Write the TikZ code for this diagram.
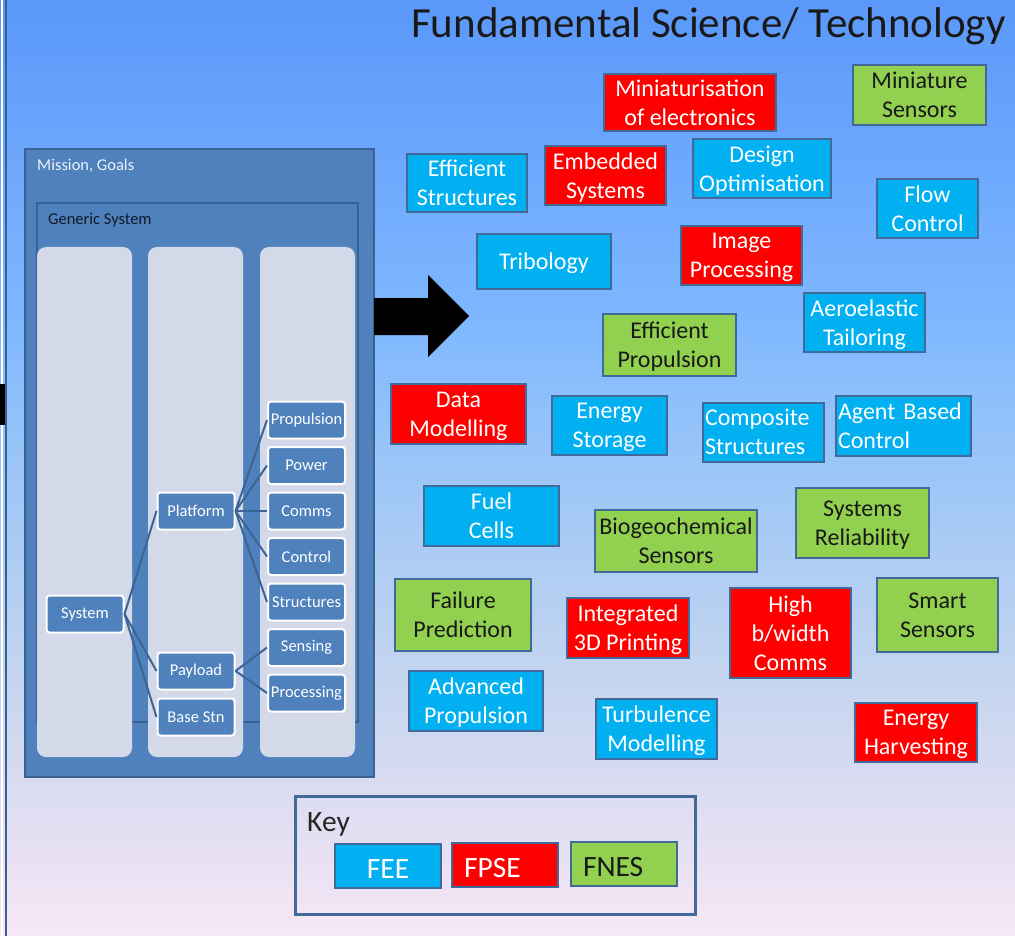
\documentclass[tikz,border=0pt]{standalone}
\usepackage{fontspec}
\setmainfont{Carlito}
\usetikzlibrary{positioning}

\definecolor{feeblue}{HTML}{00B0F0}
\definecolor{fpsered}{HTML}{FF0000}
\definecolor{fnesgreen}{HTML}{92D050}
\definecolor{boxedge}{HTML}{41699A}
\definecolor{sysblue}{HTML}{4F81BD}
\definecolor{sysdark}{HTML}{3B6192}
\definecolor{sysline}{HTML}{3C6496}
\definecolor{column}{HTML}{D3D9E8}
\definecolor{bgtop}{HTML}{5A98FA}
\definecolor{bgsky}{HTML}{80B8FF}
\definecolor{bgmid}{HTML}{92C2FA}
\definecolor{bglow}{HTML}{BCD2F0}
\definecolor{bgmist}{HTML}{D8DBF1}
\definecolor{bgbot}{HTML}{F7E7F5}

% the central 50bp of a shading cover the path
\pgfdeclareverticalshading{slide}{100bp}{color(0bp)=(bgbot); color(25bp)=(bgbot);
  color(33.5bp)=(bgmist); color(41bp)=(bglow); color(52.5bp)=(bgmid);
  color(57.5bp)=(bgsky); color(75bp)=(bgtop); color(100bp)=(bgtop)}

\tikzset{
  topic/.style={draw=boxedge, line width=2.2pt, align=center, inner sep=1pt,
    text depth=-3pt, font=\fontsize{24}{29}\selectfont},
  fee/.style={topic, fill=feeblue, text=white},
  fpse/.style={topic, fill=fpsered, text=white},
  fnes/.style={topic, fill=fnesgreen, text=black!90},
  wh/.style 2 args={minimum width=#1pt, minimum height=#2pt},
  leftlines/.style={text width=#1pt, align=left, text height=20pt, text depth=34pt},
  part/.style={draw=white, line width=2pt, fill=sysblue, rounded corners=3pt,
    minimum width=77pt, minimum height=37pt, inner sep=1pt, text=white,
    font=\fontsize{16.5}{19}\selectfont},
  branch/.style={draw=sysline, line width=2pt},
  keyitem/.style={wh={106}{44}, text width=82pt, text height=24pt, text depth=0pt,
    font=\fontsize{29.5}{35}\selectfont}
}

\begin{document}
\begin{tikzpicture}[x=1pt,y=-1pt]
  \useasboundingbox (0,0) rectangle (1015,936);
  \shade[shading=slide] (0,0) rectangle (1015,936);
  % left edge of the slide
  \draw[white, line width=1.5pt] (2,0) -- (2,936);
  \draw[sysdark, line width=1.5pt] (6,0) -- (6,936);
  \fill[black] (0,384) rectangle (5,425);

  \node[anchor=base east, inner sep=0, font=\fontsize{43}{50}\selectfont, text=black!90]
    (title) at (1006,38) {Fundamental Science/ Technology};

  % generic system
  \draw[fill=sysblue, draw=sysdark, line width=2pt] (25,149) rectangle (374,777);
  \node[anchor=base west, inner sep=0, text=white!90!sysblue,
    font=\fontsize{16.5}{19}\selectfont] (mission) at (37,171) {Mission, Goals};
  \draw[fill=sysblue, draw=sysdark, line width=2pt] (37,203) rectangle (358,722);
  \node[anchor=base west, inner sep=0, text=black!80!sysblue,
    font=\fontsize{16.5}{19}\selectfont] (generic) at (48,225) {Generic System};
  \foreach \x in {37,148,260}
    \fill[column, rounded corners=9pt] (\x,247) rectangle ++(95,510);

  \node[part] (system)   at (85,614)  {System};
  \node[part] (platform) at (196,511) {Platform};
  \node[part] (payload)  at (196,671) {Payload};
  \node[part] (basestn)  at (196,717) {Base Stn};
  \node[part] (propulsion) at (306.5,420) {Propulsion};
  \node[part] (power)      [below=6.5pt of propulsion] {Power};
  \node[part] (comms)      [below=6.5pt of power]      {Comms};
  \node[part] (control)    [below=6.5pt of comms]      {Control};
  \node[part] (structures) [below=6.5pt of control]    {Structures};
  \node[part] (sensing)    [below=6.5pt of structures] {Sensing};
  \node[part] (processing) [below=6.5pt of sensing]    {Processing};

  \foreach \c in {platform,payload,basestn}
    \draw[branch] (system.east) -- (\c.west);
  \foreach \c in {propulsion,power,comms,control,structures}
    \draw[branch] (platform.east) -- (\c.west);
  \foreach \c in {sensing,processing}
    \draw[branch] (payload.east) -- (\c.west);

  % big arrow
  \fill[black] (374,298) -- (428,298) -- (428,275) -- (469,316) -- (428,357)
    -- (428,335) -- (374,335) -- cycle;

  % science and technology areas
  \node[fpse, wh={172}{57}] (miniaturisation) at (690,102.5) {Miniaturisation\\of electronics};
  \node[fee, wh={120}{58}]  (effstructures) at (467,183)   {Efficient\\Structures};
  \node[fpse, wh={121}{59}] (embedded)      at (605.5,175.5) {Embedded\\Systems};
  \node[fee, wh={134}{55}]  (tribology)     at (544,261.5) {Tribology};
  \node[fnes, wh={133}{60}] (minisensors)   at (919.5,95)  {Miniature\\Sensors};
  \node[fee, wh={138}{59}]  (design)        at (762,168.5) {Design\\Optimisation};
  \node[fee, wh={101}{59}]  (flow)          at (927.5,208.5) {Flow\\Control};
  \node[fpse, wh={121}{59}] (image)         at (741.5,255.5) {Image\\Processing};
  \node[fee, wh={121}{59}]  (aeroelastic)   at (864.5,322.5) {Aeroelastic\\Tailoring};
  \node[fnes, wh={133}{62}] (effpropulsion) at (669.5,345) {Efficient\\Propulsion};
  \node[fpse, wh={135}{60}] (data)          at (458.5,414) {Data\\Modelling};
  \node[fee, wh={115}{59}]  (storage)       at (609.5,425.5) {Energy\\Storage};
  \node[fee, wh={121}{59}, leftlines=117]   (composite) at (763.5,432.5) {Composite\\Structures};
  \node[fee, wh={135}{60}, leftlines=131]   (agent) at (903.5,426) {Agent Based\\Control};
  \node[fee, wh={135}{60}]  (fuel)          at (491.5,516) {Fuel\\Cells};
  \node[fnes, wh={162}{62}] (biogeo)        at (676,541)   {Biogeochemical\\Sensors};
  \node[fnes, wh={133}{70}] (reliability)   at (862.5,523) {Systems\\Reliability};
  \node[fnes, wh={136}{72}] (failure)       at (463,615)   {Failure\\Prediction};
  \node[fpse, wh={122}{60}] (printing)      at (628,628)   {Integrated\\3D Printing};
  \node[fpse, wh={121}{90}] (highcomms)     at (790.5,633) {High\\b/width\\Comms};
  \node[fnes, wh={121}{74}] (smart)         at (937.5,615) {Smart\\Sensors};
  \node[fee, wh={134}{60}]  (advanced)      at (476,701)   {Advanced\\Propulsion};
  \node[fee, wh={121}{60}]  (turbulence)    at (656.5,729) {Turbulence\\Modelling};
  \node[fpse, wh={122}{59}] (harvesting)    at (916,732.5) {Energy\\Harvesting};

  % key
  \node[draw=boxedge, line width=2.5pt, wh={400}{118}] (key) at (495.5,855.5) {};
  \node[anchor=base west, inner sep=0, text=black!85, font=\fontsize{29.5}{35}\selectfont]
    (keytitle) at (307,831) {Key};
  \node[fee, keyitem] (keyfee) at (388,866) {FEE};
  \node[fpse, keyitem, align=left] (keyfpse) at (505,865) {FPSE};
  \node[fnes, keyitem, align=left] (keyfnes) at (624,864) {FNES};
\end{tikzpicture}
\end{document}
